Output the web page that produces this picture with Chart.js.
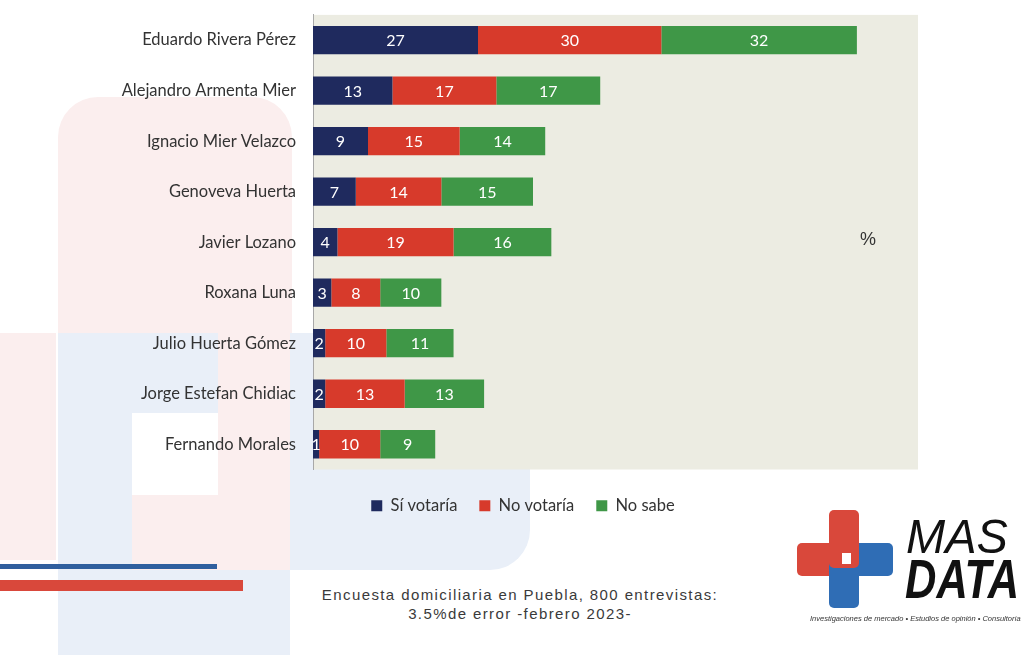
<!DOCTYPE html>
<html><head><meta charset="utf-8">
<script src="https://cdn.jsdelivr.net/npm/chart.js@4.4.1/dist/chart.umd.min.js"></script>
<style>
html,body{margin:0;padding:0;background:#fff;width:1024px;height:655px;overflow:hidden;position:relative;font-family:Lato,sans-serif}
.bg{position:absolute}
#wrap{position:absolute;left:0;top:-12px;width:918px;height:530px}
.footer{position:absolute;left:270px;width:500px;text-align:center;font-family:"Liberation Sans",Arial,sans-serif;font-size:15px;letter-spacing:1.4px;color:#3a3a3a;line-height:19px}
</style></head>
<body>
<div class="bg" style="left:58px;top:333px;width:472px;height:237px;background:#e9eff8;border-bottom-right-radius:40px"></div>
<div class="bg" style="left:58px;top:570px;width:232px;height:85px;background:#e9eff8"></div>
<div class="bg" style="left:58px;top:97px;width:234px;height:236px;background:#fbeeee;border-top-left-radius:40px;border-top-right-radius:40px"></div>
<div class="bg" style="left:218px;top:333px;width:72px;height:237px;background:#fbeeee"></div>
<div class="bg" style="left:0px;top:333px;width:56px;height:227px;background:#fbeeee"></div>
<div class="bg" style="left:132px;top:495px;width:86px;height:75px;background:#fbeeee"></div>
<div class="bg" style="left:132px;top:413px;width:86px;height:82px;background:#ffffff"></div>
<div class="bg" style="left:0px;top:564px;width:217px;height:5px;background:#2f5f9e"></div>
<div class="bg" style="left:0px;top:580px;width:243px;height:11px;background:#d9483b"></div>

<div id="wrap"><canvas id="c"></canvas></div>

<div class="bg" style="left:860px;top:229px;font-family:'Liberation Sans',Arial,sans-serif;font-size:18px;color:#333">%</div>

<div class="footer" style="top:585px">Encuesta domiciliaria en Puebla, 800 entrevistas:<br>3.5%de error -febrero 2023-</div>

<!-- logo -->
<div class="bg" style="left:797px;top:543px;width:52px;height:33px;background:#d9483b;border-radius:5px"></div>
<div class="bg" style="left:842px;top:543px;width:51px;height:33px;background:#2f6db5;border-radius:5px"></div>
<div class="bg" style="left:829px;top:557px;width:30px;height:51px;background:#2f6db5;border-radius:5px"></div>
<div class="bg" style="left:829px;top:510px;width:30px;height:58px;background:#d9483b;border-radius:5px"></div>
<div class="bg" style="left:842px;top:553px;width:9px;height:11px;background:#fff"></div>
<div class="bg" style="left:906px;top:508px;font-family:'Liberation Sans',Arial,sans-serif;font-style:italic;font-size:49px;line-height:56px;color:#111;transform:scaleX(0.96);transform-origin:left top">MAS</div>
<div class="bg" style="left:905px;top:553px;font-family:'Liberation Sans',Arial,sans-serif;font-style:italic;font-weight:bold;font-size:55px;line-height:52px;color:#111;transform:scaleX(0.79);transform-origin:left top">DATA</div>
<div class="bg" style="left:810px;top:614px;white-space:nowrap;font-family:'Liberation Sans',Arial,sans-serif;font-style:italic;font-size:7.5px;color:#333">Investigaciones de mercado • Estudios de opinión • Consultoría</div>

<script>
const categories = ["Eduardo Rivera Pérez","Alejandro Armenta Mier","Ignacio Mier Velazco","Genoveva Huerta","Javier Lozano","Roxana Luna","Julio Huerta Gómez","Jorge Estefan Chidiac","Fernando Morales"];
const siVotaria = [27,13,9,7,4,3,2,2,1];
const noVotaria = [30,17,15,14,19,8,10,13,10];
const noSabe = [32,17,14,15,16,10,11,13,9];
const seriesNames = ["Sí votaría","No votaría","No sabe"];

const bgPlugin = {
  id:'plotBg',
  afterLayout(chart){
    if (chart.legend){
      chart.legend.left += 14; chart.legend.right += 14;
      chart.legend.top += 6; chart.legend.bottom += 6;
    }
  },
  beforeDraw(chart){
    const a = chart.chartArea, ctx = chart.ctx;
    ctx.save(); ctx.fillStyle='#ecece2'; ctx.fillRect(a.left,a.top,a.right-a.left,a.bottom-a.top); ctx.restore();
  }
};
const labelPlugin = {
  id:'barLabels',
  afterDatasetsDraw(chart){
    const ctx = chart.ctx;
    ctx.save();
    ctx.font = '16px Lato, sans-serif';
    ctx.fillStyle = '#ffffff';
    ctx.textAlign = 'center'; ctx.textBaseline = 'middle';
    chart.data.datasets.forEach((ds,i)=>{
      const meta = chart.getDatasetMeta(i);
      meta.data.forEach((el,j)=>{
        const v = ds.data[j];
        const x = (el.x + el.base)/2;
        ctx.fillText(String(v), x, el.y+1);
      });
    });
    ctx.restore();
  }
};

new Chart(document.getElementById('c'), {
  type:'bar',
  data:{
    labels:categories,
    datasets:[
      {label:seriesNames[0], data:siVotaria, backgroundColor:'#1f2a5e'},
      {label:seriesNames[1], data:noVotaria, backgroundColor:'#d73a2b'},
      {label:seriesNames[2], data:noSabe, backgroundColor:'#3f9747'}
    ]
  },
  options:{
    indexAxis:'y',
    responsive:true, maintainAspectRatio:false, animation:false,
    datasets:{bar:{barPercentage:1, categoryPercentage:0.56, borderWidth:0}},
    layout:{padding:{left:100,top:2,right:0,bottom:0}},
    scales:{
      x:{stacked:true, min:0, max:99, display:false},
      y:{stacked:true,
         afterFit(s){ s.width = 213; },
         grid:{display:false, drawTicks:false},
         border:{display:true, color:'#a8a8a8', width:1},
         ticks:{padding:17, color:'#333', font:{family:'Lato', size:16.5}}
      }
    },
    plugins:{
      legend:{position:'bottom', labels:{boxWidth:11, boxHeight:11, padding:22, color:'#333', font:{family:'Lato', size:16.5}}},
      tooltip:{enabled:false}
    }
  },
  plugins:[bgPlugin,labelPlugin]
});
</script>
</body></html>
